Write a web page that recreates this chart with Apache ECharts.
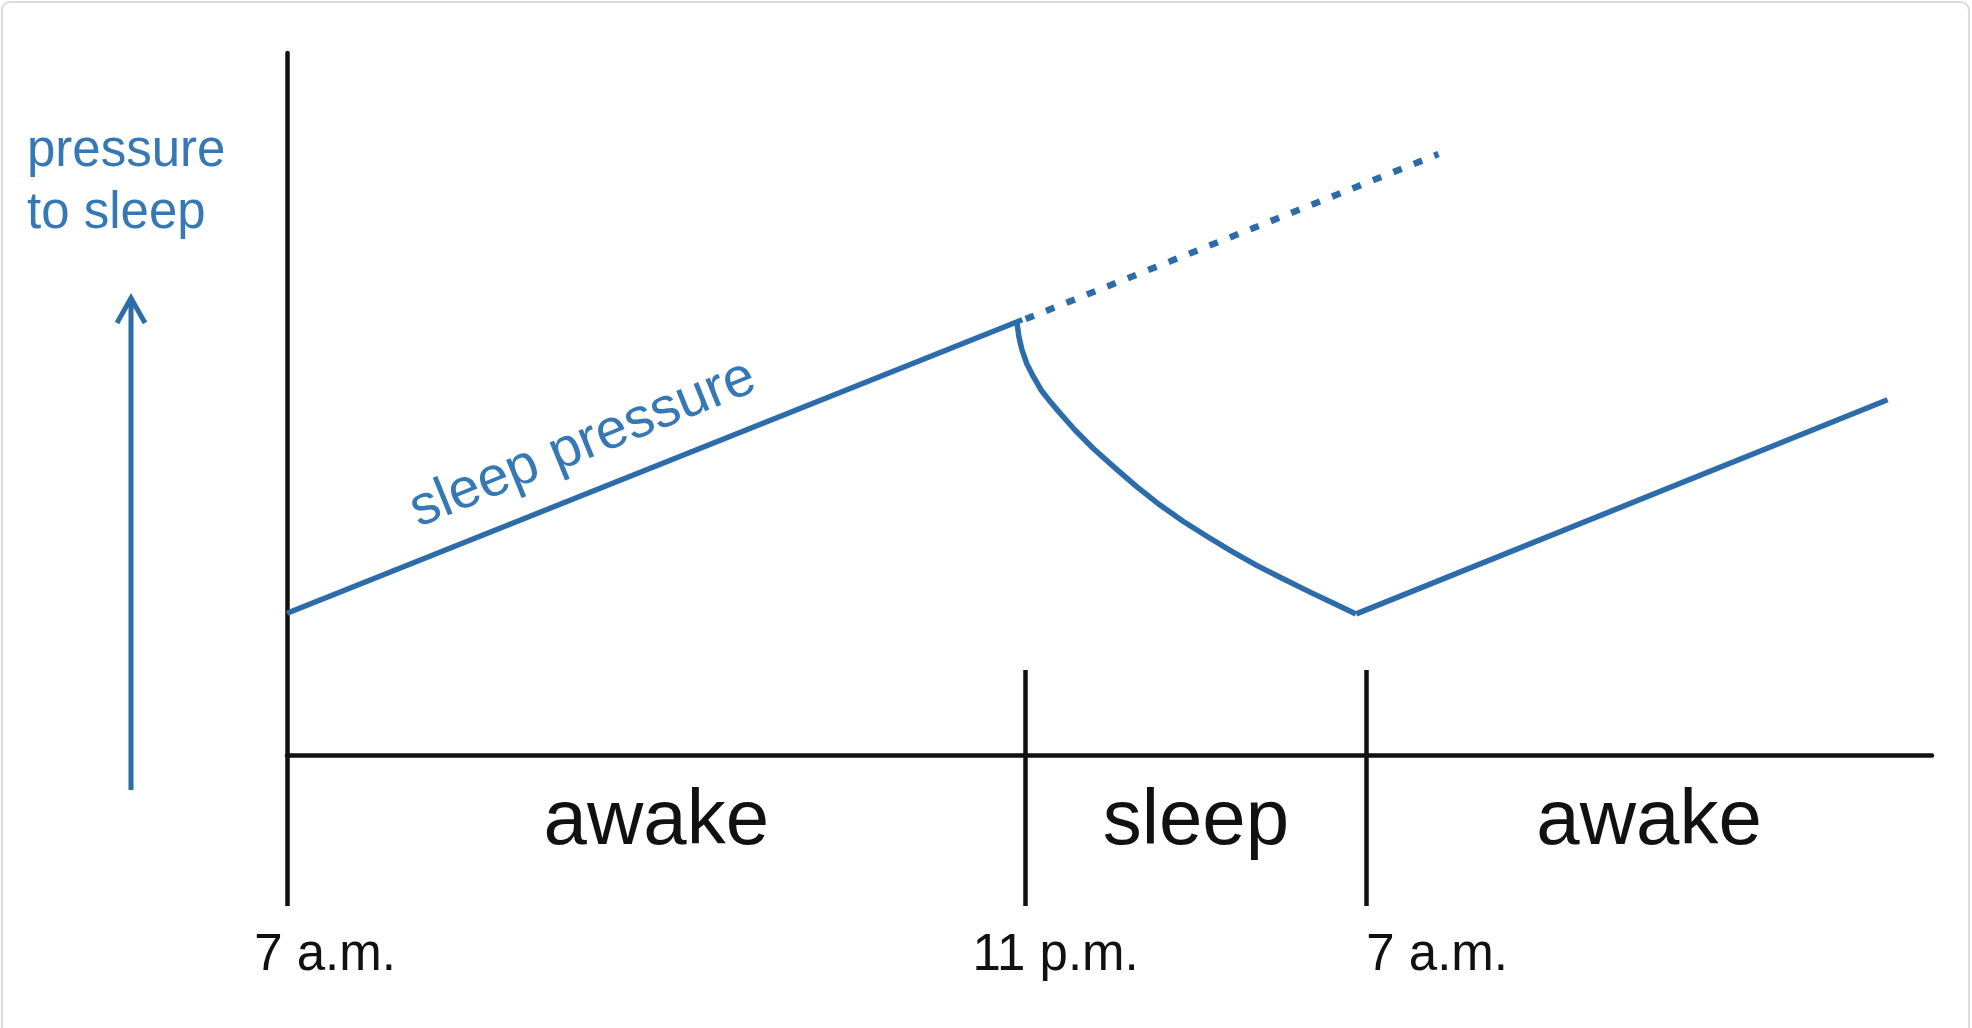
<!DOCTYPE html>
<html>
<head>
<meta charset="utf-8">
<script src="https://cdn.jsdelivr.net/npm/echarts@6/dist/echarts.min.js"></script>
<style>
  html, body { margin: 0; padding: 0; background: #fff; }
  #chart { width: 1972px; height: 1028px; }
</style>
</head>
<body>
<div id="chart"></div>
<script>
// ---- data (schematic position units, 0..100 along each axis) ----
const tickPos = [0, 44.9, 65.6];
const tickLabels = ['7 a.m.', '11 p.m.', '7 a.m.'];
const regionNames = ['awake', 'sleep', 'awake'];
const regionEnds = [0, 44.9, 65.6, 100];
const awakeRise1 = [[0, 20.2], [44.7, 62.0]];
const sleepDecay = [
  [44.38, 61.5], [44.50, 59.5], [44.68, 57.7], [44.98, 55.7], [45.35, 54.0],
  [45.84, 52.0], [46.38, 50.4], [46.99, 48.7], [47.90, 46.3], [49.00, 43.7],
  [50.33, 40.9], [51.67, 38.2], [53.07, 35.6], [54.47, 33.3], [55.99, 31.05],
  [57.51, 28.9], [59.03, 26.9], [60.55, 25.1], [62.19, 23.2], [63.59, 21.65],
  [64.98, 20.1]
];
const awakeRise2 = [[65.0, 20.1], [97.3, 50.6]];
const noSleepRise = [[44.9, 62.1], [70.0, 85.6]];
const yTitle = 'pressure\nto sleep';
const lineLabel = 'sleep pressure';

const regionMids = regionNames.map((_, i) => (regionEnds[i] + regionEnds[i + 1]) / 2);

const BLUE = '#2d6cab';
const TEXTBLUE = '#3678b4';
const BLACK = '#111111';
const FONT = '"Liberation Sans", Arial, Helvetica, sans-serif';

const chart = echarts.init(document.getElementById('chart'), null, { renderer: 'canvas' });

const labelShift = [76, 60, 142];
const rich = {};
labelShift.forEach((s, i) => {
  rich['t' + i] = { padding: [0, 0, 0, s], fontSize: 51, fontFamily: FONT, color: BLACK };
});

const option = {
  animation: false,
  backgroundColor: '#ffffff',
  grid: { left: 287, right: 40, top: 53, bottom: 273, outerBoundsMode: 'none', containLabel: false },
  xAxis: [
    {
      type: 'value', min: 0, max: 100, position: 'bottom',
      splitLine: { show: false },
      axisLine: { show: true, lineStyle: { color: BLACK, width: 4.5 } },
      axisTick: { show: true, inside: false, length: 151, customValues: tickPos,
        lineStyle: { color: BLACK, width: 4.5 } },
      axisLabel: {
        show: true, customValues: tickPos, margin: 175, align: 'center',
        fontSize: 51, fontFamily: FONT, color: BLACK,
        formatter: function (v) {
          let i = tickPos.findIndex(p => Math.abs(p - v) < 1e-6);
          if (i < 0) return '';
          return '{t' + i + '|' + tickLabels[i] + '}';
        },
        rich: rich
      }
    },
    {
      type: 'value', min: 0, max: 100, position: 'bottom', offset: 0,
      splitLine: { show: false },
      axisLine: { show: false },
      axisTick: { show: true, inside: true, length: 85, customValues: tickPos.slice(1),
        lineStyle: { color: BLACK, width: 4.5 } },
      axisLabel: {
        show: true, customValues: regionMids, margin: 28, align: 'center',
        fontSize: 78, fontFamily: FONT, color: BLACK,
        formatter: function (v) {
          let i = regionMids.findIndex(p => Math.abs(p - v) < 1e-6);
          return i < 0 ? '' : regionNames[i];
        }
      }
    }
  ],
  yAxis: {
    type: 'value', min: 0, max: 100,
    splitLine: { show: false },
    axisLine: { show: true, lineStyle: { color: BLACK, width: 4.5 } },
    axisTick: { show: false },
    axisLabel: { show: false }
  },
  series: [
    {
      name: 'awake rise 1', type: 'line', data: awakeRise1, symbol: 'none',
      lineStyle: { color: BLUE, width: 5.5 },
      markPoint: {
        symbol: 'circle', symbolSize: 0, silent: true,
        data: [{ coord: [18.0, 44.3], value: lineLabel }],
        label: {
          show: true, position: 'inside', formatter: lineLabel, rotate: 22,
          fontSize: 56, fontFamily: FONT, color: TEXTBLUE, align: 'center', verticalAlign: 'middle'
        }
      }
    },
    {
      name: 'sleep decay', type: 'line', data: sleepDecay, symbol: 'none', smooth: false,
      lineStyle: { color: BLUE, width: 5.5, join: 'round' }
    },
    {
      name: 'awake rise 2', type: 'line', data: awakeRise2, symbol: 'none',
      lineStyle: { color: BLUE, width: 5.5 }
    },
    {
      name: 'no sleep', type: 'line', data: noSleepRise, symbol: 'none',
      lineStyle: { color: BLUE, width: 6.5, type: [9, 13], cap: 'butt' }
    }
  ],
  graphic: [
    {
      type: 'rect', silent: true, z: -10,
      shape: { x: 2, y: 2, width: 1967, height: 1100, r: 8 },
      style: { fill: 'none', stroke: '#dcdcdc', lineWidth: 2 }
    },
    {
      type: 'text', left: 27, top: 121, silent: true,
      style: { text: yTitle, fontSize: 51, lineHeight: 62, fontFamily: FONT, fill: TEXTBLUE }
    },
    {
      type: 'polyline', silent: true,
      shape: { points: [[131, 790], [131, 299]] },
      style: { stroke: BLUE, lineWidth: 5, fill: 'none' }
    },
    {
      type: 'polyline', silent: true,
      shape: { points: [[117, 323], [131, 298], [145, 323]] },
      style: { stroke: BLUE, lineWidth: 5, fill: 'none', lineJoin: 'miter' }
    }
  ]
};

chart.setOption(option);
</script>
</body>
</html>
